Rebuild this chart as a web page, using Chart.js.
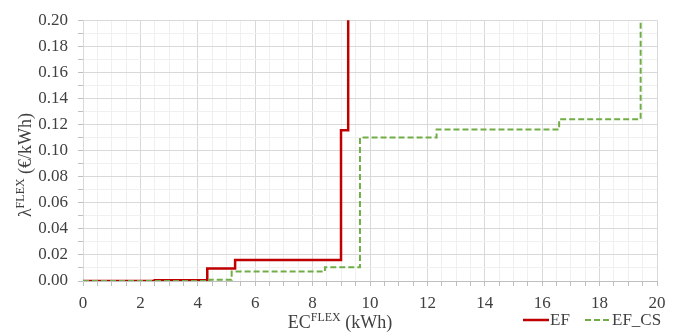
<!DOCTYPE html>
<html>
<head>
<meta charset="utf-8">
<script src="https://cdn.jsdelivr.net/npm/chart.js@4"></script>
<style>
  html, body { margin: 0; padding: 0; background: #fff; }
  #wrap { width: 683px; height: 333px; }
</style>
</head>
<body>
<div id="wrap"><canvas id="chart" width="683" height="333"></canvas></div>
<script>
// step curves (x in kWh, y in EUR/kWh)
const efX = [0, 2.5, 4.33, 5.30, 8.99, 9.24];
const efY = [0, 0.0005, 0.0095, 0.0162, 0.1157, 0.25];
const csX = [0, 4.40, 5.18, 8.43, 9.65, 12.32, 16.59, 19.43];
const csY = [0, 0.001, 0.0072, 0.0105, 0.110, 0.1162, 0.1241, 0.25];
const seriesNames = ['EF', 'EF_CS'];

const textColor = '#404040';
const serif = '"Liberation Serif", "Times New Roman", serif';

const toPoints = (xs, ys) => xs.map((x, i) => ({ x: x, y: ys[i] }));

// text with a superscript piece, e.g. EC^FLEX
const drawRich = (ctx, parts, x, y, size) => {
	const widthOf = p => {
		ctx.font = (p.sup ? Math.round(size * 0.68) : size) + 'px ' + serif;
		return ctx.measureText(p.t).width;
	};
	const total = parts.reduce((s, p) => s + widthOf(p), 0);
	let cx = x - total / 2;
	ctx.textAlign = 'left';
	ctx.textBaseline = 'alphabetic';
	parts.forEach(p => {
		const w = widthOf(p);
		ctx.fillText(p.t, cx, p.sup ? y - size * 0.38 : y);
		cx += w;
	});
};

const extras = {
	id: 'extras',
	afterDraw(chart) {
		const ctx = chart.ctx;
		ctx.save();
		ctx.fillStyle = textColor;
		// x axis title
		drawRich(ctx, [{ t: 'EC' }, { t: 'FLEX', sup: true }, { t: ' (kWh)' }], 340, 328, 18);
		// y axis title
		ctx.save();
		ctx.translate(31, 165);
		ctx.rotate(-Math.PI / 2);
		drawRich(ctx, [{ t: 'λ' }, { t: 'FLEX', sup: true }, { t: ' (€/kWh)' }], 0, 0, 18);
		ctx.restore();
		// legend
		const ds = chart.data.datasets;
		const items = [
			{ x1: 523, x2: 549, tx: 550 },
			{ x1: 585, x2: 612, tx: 612 }
		];
		items.forEach((it, i) => {
			ctx.beginPath();
			ctx.strokeStyle = ds[i].borderColor;
			ctx.lineWidth = ds[i].borderWidth;
			ctx.setLineDash(ds[i].borderDash || []);
			ctx.moveTo(it.x1, 320);
			ctx.lineTo(it.x2, 320);
			ctx.stroke();
			ctx.setLineDash([]);
			ctx.font = '17px ' + serif;
			ctx.textAlign = 'left';
			ctx.textBaseline = 'middle';
			ctx.fillStyle = textColor;
			ctx.fillText(seriesNames[i], it.tx, 321);
		});
		ctx.restore();
	}
};

new Chart(document.getElementById('chart'), {
	type: 'line',
	data: {
		datasets: [
			{
				label: seriesNames[0],
				data: toPoints(efX, efY),
				borderColor: '#C00000',
				borderWidth: 2.5,
				stepped: true,
				pointRadius: 0,
				fill: false,
				order: 1
			},
			{
				label: seriesNames[1],
				data: toPoints(csX, csY),
				borderColor: '#70AD47',
				borderWidth: 2,
				borderDash: [6, 3],
				stepped: true,
				pointRadius: 0,
				fill: false,
				order: 0
			}
		]
	},
	options: {
		responsive: false,
		animation: false,
		layout: { padding: { top: 13, right: 26, left: 0, bottom: 0 } },
		plugins: {
			legend: { display: false },
			tooltip: { enabled: false }
		},
		scales: {
			x: {
				type: 'linear',
				min: 0,
				max: 20,
				afterFit: s => { s.height = 52; },
				ticks: {
					stepSize: 0.5,
					autoSkip: false,
					maxRotation: 0,
					padding: 7,
					color: textColor,
					font: { family: serif, size: 17 },
					callback: v => (Math.round(v * 2) % 4 === 0 ? String(Math.round(v)) : '')
				},
				grid: {
					color: c => (Math.round(c.tick.value * 2) % 4 === 0 ? '#d9d9d9' : '#f0f0f0'),
					tickColor: '#bfbfbf',
					tickLength: 5
				},
				border: { color: '#bfbfbf' }
			},
			y: {
				min: 0,
				max: 0.2,
				afterFit: s => { s.width = 83; },
				ticks: {
					stepSize: 0.01,
					autoSkip: false,
					padding: 10,
					color: textColor,
					font: { family: serif, size: 17 },
					callback: v => (Math.round(v * 100) % 2 === 0 ? v.toFixed(2) : '')
				},
				grid: {
					color: c => (Math.round(c.tick.value * 100) % 2 === 0 ? '#d9d9d9' : '#f0f0f0'),
					tickColor: '#bfbfbf',
					tickLength: 5
				},
				border: { color: '#d9d9d9' }
			}
		}
	},
	plugins: [extras]
});
</script>
</body>
</html>
